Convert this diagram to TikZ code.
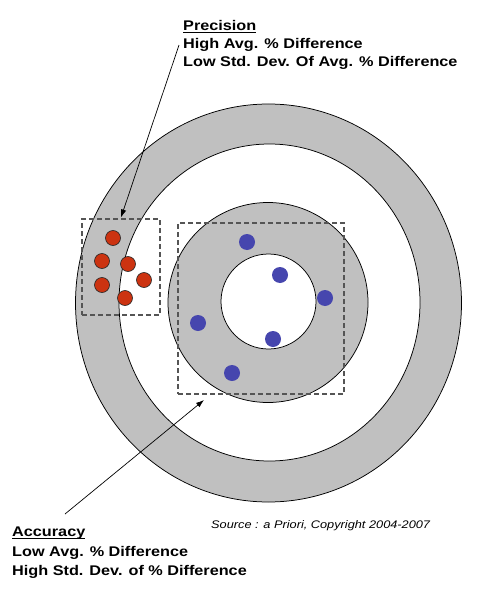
\documentclass[tikz,border=0pt]{standalone}
\usepackage{fontspec}
\setmainfont{Liberation Sans}[FakeStretch=1.16]
\usepackage{tikz}
\usetikzlibrary{arrows.meta}
\definecolor{RingGray}{HTML}{C0C0C0}
\definecolor{DotRed}{HTML}{CC3311}
\definecolor{DotBlue}{HTML}{4646AE}
\definecolor{BoxGray}{HTML}{555555}
\newcommand{\headline}[1]{\setbox0=\hbox{#1}\rlap{\rule[-2.2pt]{\wd0}{1.2pt}}\box0}

\begin{document}
\begin{tikzpicture}[x=1pt, y=-1pt,
		ring/.style={draw=black, line width=0.75pt},
		reddot/.style={circle, draw=black!85, fill=DotRed, line width=0.6pt,
			minimum size=15pt, inner sep=0pt},
		bluedot/.style={circle, fill=DotBlue, minimum size=16pt, inner sep=0pt},
		selbox/.style={draw=BoxGray, dash pattern=on 5pt off 3pt, line width=1.1pt},
		notetext/.style={anchor=north west, inner sep=0pt, align=left,
			font=\fontsize{14}{#1}\selectfont\bfseries},
		arrow/.style={-{Latex[length=8pt,width=5.5pt]}, line width=0.7pt}
	]
	\useasboundingbox (0,0) rectangle (488,604);
	% target rings
	\filldraw[ring, fill=RingGray] (268.5,303) ellipse [x radius=193pt, y radius=199pt];
	\filldraw[ring, fill=white] (269.5,302.5) ellipse [x radius=150.5pt, y radius=158.5pt];
	\filldraw[ring, fill=RingGray] (268,302.5) circle [radius=100pt];
	\filldraw[ring, fill=white] (268.5,301.5) circle [radius=47.5pt];
	% selection boxes
	\node[selbox, minimum width=78pt, minimum height=96pt] (redbox) at (121,267) {};
	\node[selbox, minimum width=166pt, minimum height=171pt] (bluebox) at (261,308.5) {};
	% shots
	\foreach \x/\y [count=\i] in {113/238, 102/261, 128/264, 144/280, 102/285, 125/298}
		\node[reddot] (r\i) at (\x,\y) {};
	\foreach \x/\y [count=\i] in {247/242, 280/275, 325/298, 198/323, 273/339, 232/373}
		\node[bluedot] (b\i) at (\x,\y) {};
	% notes
	\node[notetext=17.8] (prec) at (183,20.5) {\headline{Precision}\\High Avg. \% Difference\\Low Std. Dev. Of Avg. \% Difference};
	\node[notetext=19.5] (acc) at (12,527) {\headline{Accuracy}\\Low Avg. \% Difference\\High Std. Dev. of \% Difference};
	\node[anchor=base west, inner sep=0pt, font=\fontsize{11}{13}\selectfont\itshape] (src) at (211,528) {Source : a Priori, Copyright 2004-2007};
	\coordinate (acctip) at (204,400);
	\draw[arrow] ([xshift=-4pt]prec.west) -- ([yshift=1pt]redbox.north);
	\draw[arrow] ([shift={(53,-13)}]acc.north west) -- (acctip);
\end{tikzpicture}
\end{document}
